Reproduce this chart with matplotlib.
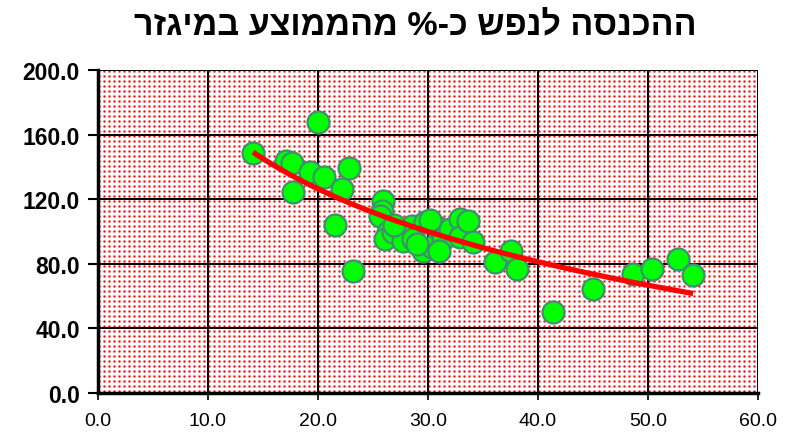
import numpy as np
import matplotlib
matplotlib.use("Agg")
import matplotlib.pyplot as plt

title_logical = "ההכנסה לנפש כ-% מהממוצע במיגזר"

x_vals = [14.1, 17.1, 17.6, 19.3, 20.5, 20.0, 17.7, 22.2, 22.8, 21.5, 23.2,
          25.9, 25.8, 25.6, 26.4, 26.1, 26.8, 27.7, 28.5, 28.6, 29.5, 29.7,
          30.4, 30.8, 31.4, 32.0, 32.9, 32.9, 33.6, 34.1, 29.0, 31.0, 30.2,
          26.9, 36.1, 37.5, 38.1, 41.4, 45.0, 48.6, 50.4, 52.7, 54.1]
y_vals = [148.6, 143.7, 142.4, 136.8, 133.7, 167.8, 124.5, 126.3, 139.3, 104.0, 75.5,
          118.9, 112.7, 109.6, 99.7, 95.4, 100.0, 94.1, 103.4, 95.4, 87.9, 105.9,
          90.4, 102.8, 95.4, 101.5, 107.7, 96.6, 106.5, 93.5, 92.0, 88.0, 107.0,
          104.0, 81.0, 88.0, 76.8, 50.0, 64.4, 73.7, 76.8, 83.0, 73.0]

x_ticks = [0, 10, 20, 30, 40, 50, 60]
y_ticks = [0, 40, 80, 120, 160, 200]

FONT = ['Liberation Sans', 'DejaVu Sans']

W, H = 790, 435
fig = plt.figure(figsize=(W / 100, H / 100), dpi=100)
L, R, T, B = 98, 758, 71, 394
ax = fig.add_axes([L / W, 1 - B / H, (R - L) / W, (B - T) / H])

# dotted red background pattern
pw, ph = R - L, B - T
pat = np.ones((ph, pw, 3))
period = 5
yy, xx = np.mgrid[0:ph, 0:pw]
cx = xx % period
cy = yy % period
core = (cx == 1) & (cy == 1)
cross = ((np.abs(cx - 1) + np.abs(cy - 1)) == 1)
diag = (np.abs(cx - 1) == 1) & (np.abs(cy - 1) == 1)
pat[diag] = [1.0, 0.75, 0.75]
pat[cross] = [1.0, 0.4, 0.4]
pat[core] = [1.0, 0.0, 0.0]
ax.imshow(pat, extent=(0, 60, 0, 200), aspect='auto', interpolation='nearest', zorder=0)

ax.set_xlim(0, 60)
ax.set_ylim(0, 200)
ax.set_xticks(x_ticks)
ax.set_yticks(y_ticks)
ax.set_xticklabels([f"{v:.1f}" for v in x_ticks], fontsize=14, family=FONT)
ax.set_yticklabels([f"{v:.1f}" for v in y_ticks], fontsize=16.5, fontweight='bold', family=FONT)
ax.grid(True, color='black', linewidth=1.4, zorder=1)
ax.set_axisbelow(False)
for ln in ax.get_xgridlines() + ax.get_ygridlines():
    ln.set_zorder(1)
ax.tick_params(axis='x', direction='out', length=5, width=1.2, pad=9)
ax.tick_params(axis='y', direction='out', length=7, width=1.5, pad=6)
for s in ['top', 'right']:
    ax.spines[s].set_visible(False)
ax.spines['left'].set_linewidth(2.5)
ax.spines['bottom'].set_linewidth(2.5)

xs = np.array(x_vals)
ys = np.array(y_vals)
ax.scatter(xs, ys, s=250, facecolor='#00ff00', edgecolor='#3f8f70', linewidths=1.6, zorder=3)

# logarithmic trend line (least squares)
b, a = np.polyfit(np.log(xs), ys, 1)
tx = np.linspace(xs.min(), xs.max(), 100)
ax.plot(tx, a + b * np.log(tx), color='#ff0000', linewidth=3.8, zorder=4, solid_capstyle='butt')

fig.text(415 / W, 1 - 27 / H, title_logical[::-1], ha='center', va='center', fontsize=24.5,
         fontweight='bold', family=FONT)

fig.savefig("out.png", dpi=100)
